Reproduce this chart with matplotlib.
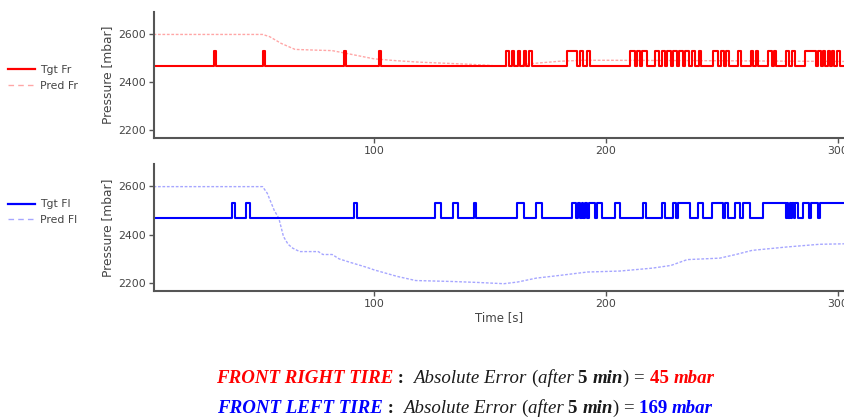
import numpy as np
import matplotlib
matplotlib.use("Agg")
import matplotlib.pyplot as plt
from matplotlib.lines import Line2D

# ---------------- data ----------------
tgt_low = 2467
tgt_high = 2528
t_start, t_end = 5.2, 302.6

fr_pulses = [(31, 32), (52, 53), (87, 88), (102, 103),
             (157, 158), (159.5, 160.5), (162, 163), (164.5, 165.5), (167, 168),
             (183.3, 187.4), (188.8, 190), (192, 193),
             (210.3, 212.5), (213.5, 214.5), (215.5, 217.5),
             (221, 223), (224, 225.5), (226.5, 228),
             (229, 230.5), (231.5, 233), (234, 236), (237, 238.5),
             (240, 241),
             (246.3, 248.5), (249.5, 250.8), (251.8, 253),
             (257, 258),
             (262.5, 263.5), (264.5, 265.5),
             (270, 271.5), (272.5, 273.5),
             (277.5, 279), (280, 281.5),
             (286, 290.5), (291.5, 292.5), (293.5, 294.5), (295.5, 296.5),
             (297.5, 298.5), (299.5, 301)]

fl_pulses = [(39, 40), (44.7, 46.5), (91.5, 92.5),
             (126.3, 128.7), (134.2, 136.3), (143.2, 144),
             (161.7, 164.7), (170, 172.4),
             (185.2, 187.3), (188, 188.8), (189.5, 190.3), (191, 192), (192.6, 195.2), (196, 198.4),
             (204, 206),
             (216, 217.3), (224, 225.3),
             (229, 230.3), (231, 236.2),
             (239.8, 241.9),
             (245.6, 250.5), (251.2, 252.7), (255.6, 257.8),
             (259.2, 262.2), (267.5, 277.4),
             (278, 278.6), (279.2, 279.8), (280.4, 281), (281.6, 282.8),
             (285, 287.6), (288.4, 291.5),
             (292.2, 310)]

pred_fr_t = [5, 52, 55, 60, 66, 75, 82, 90, 100, 110, 120, 130, 140, 148, 155, 160, 170, 180, 190, 200, 250, 303]
pred_fr_v = [2597, 2597, 2588, 2560, 2535, 2532, 2530, 2515, 2496, 2488, 2482, 2478, 2474, 2470, 2465, 2468,
             2478, 2486, 2490, 2490, 2488, 2485]

pred_fl_t = [5, 52, 54, 57, 59, 61, 63, 65, 68, 76, 78, 82, 85, 90, 97, 100, 110, 118, 134, 145, 156, 162,
             170, 180, 192, 206, 220, 228, 235, 249, 256, 263, 278, 292, 303]
pred_fl_v = [2597, 2597, 2570, 2500, 2467, 2392, 2360, 2344, 2330, 2330, 2318, 2318, 2300, 2285, 2265, 2255,
             2228, 2211, 2207, 2203, 2198, 2205, 2221, 2232, 2246, 2250, 2262, 2273, 2297, 2303, 2318, 2335,
             2349, 2360, 2362]

y_ticks = [2200, 2400, 2600]
x_ticks = [100, 200, 300]


def step_series(pulses, lo, hi, t0, t1):
    t = [t0]
    v = [lo]
    for s, e in pulses:
        if e >= t1:
            t += [s, s, t1]
            v += [lo, hi, hi]
            return t, v
        t += [s, s, e, e]
        v += [lo, hi, hi, lo]
    t.append(t1)
    v.append(lo)
    return t, v


W, H = 844, 419
fig = plt.figure(figsize=(W / 100, H / 100), dpi=100)

grey = "#555555"
tick_col = "#444444"

axes = []
boxes = [(154, 12, 844, 138), (154, 164, 844, 291)]
for (l, t, r, b) in boxes:
    ax = fig.add_axes([l / W, 1 - b / H, (r - l) / W, (b - t) / H])
    axes.append(ax)

configs = [
    (axes[0], fr_pulses, pred_fr_t, pred_fr_v, "#ff0000", "Tgt Fr", "Pred Fr", 0.814),
    (axes[1], fl_pulses, pred_fl_t, pred_fl_v, "#0000ff", "Tgt Fl", "Pred Fl", 0.494),
]

for ax, pulses, pt, pv, col, l1, l2, ly in configs:
    tt, tv = step_series(pulses, tgt_low, tgt_high, t_start, t_end)
    ax.plot(pt, pv, color=col, alpha=0.35, lw=1.0, dashes=(2.0, 1.2))
    ax.plot(tt, tv, color=col, lw=1.5, solid_joinstyle="round")
    ax.set_xlim(t_start, t_end)
    ax.set_ylim(2168, 2690)
    ax.set_yticks(y_ticks)
    ax.set_xticks(x_ticks)
    for s in ["top", "right"]:
        ax.spines[s].set_visible(False)
    for s in ["left", "bottom"]:
        ax.spines[s].set_color(grey)
        ax.spines[s].set_linewidth(1.5)
    ax.tick_params(colors=grey, labelcolor=tick_col, labelsize=7.8, length=3.5, width=1, pad=2)
    ax.set_ylabel("Pressure [mbar]", fontsize=8.8, color=tick_col, labelpad=3)
    handles = [Line2D([], [], color=col, lw=1.6),
               Line2D([], [], color=col, lw=1.0, alpha=0.35, dashes=(4, 3))]
    ax.legend(handles, [l1, l2], loc="center left", bbox_to_anchor=(0.0, ly),
              bbox_transform=fig.transFigure, frameon=False, fontsize=7.8,
              handlelength=2.5, handletextpad=0.5, labelspacing=0.5,
              labelcolor=tick_col, borderaxespad=0.3)

axes[1].set_xlabel("Time [s]", fontsize=8.5, color=tick_col, labelpad=2)

# ---------------- bottom annotation ----------------
red = "#ff0000"
blue = "#0000ff"
dark = "#1a1a1a"
serif = ["Liberation Serif", "DejaVu Serif"]
fs = 13.6


def draw_line(pieces, ypix):
    r = fig.canvas.get_renderer()
    objs = []
    for s, c, wgt, sty in pieces:
        t = fig.text(0, 1 - ypix / H, s, color=c, fontweight=wgt, fontstyle=sty,
                     fontsize=fs, family=serif, va="center", ha="left")
        objs.append((t, t.get_window_extent(r).width))
    total = sum(w for _, w in objs)
    x = 465 - total / 2
    for t, w in objs:
        t.set_x(x / W)
        x += w


line1 = [("FRONT RIGHT TIRE", red, "bold", "italic"),
         (" :  ", dark, "bold", "normal"),
         ("Absolute Error ", dark, "normal", "italic"),
         ("(", dark, "normal", "normal"),
         ("after ", dark, "normal", "italic"),
         ("5 ", dark, "bold", "normal"),
         ("min", dark, "bold", "italic"),
         (") = ", dark, "normal", "normal"),
         ("45 ", red, "bold", "normal"),
         ("mbar", red, "bold", "italic")]
line2 = [("FRONT LEFT TIRE", blue, "bold", "italic"),
         (" :  ", dark, "bold", "normal"),
         ("Absolute Error ", dark, "normal", "italic"),
         ("(", dark, "normal", "normal"),
         ("after ", dark, "normal", "italic"),
         ("5 ", dark, "bold", "normal"),
         ("min", dark, "bold", "italic"),
         (") = ", dark, "normal", "normal"),
         ("169 ", blue, "bold", "normal"),
         ("mbar", blue, "bold", "italic")]
draw_line(line1, 378)
draw_line(line2, 408)

fig.savefig("out.png", dpi=100, facecolor="white")
